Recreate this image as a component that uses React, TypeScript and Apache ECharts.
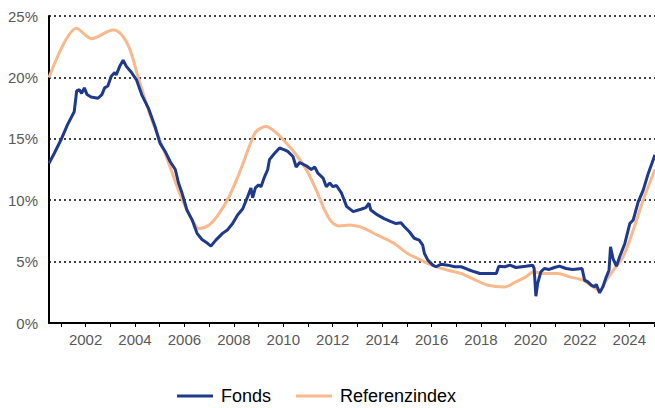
import React, { useEffect, useRef } from "react";
import * as echarts from "echarts";

const fondsYears = [
  2000.52, 2000.73, 2001.0, 2001.27, 2001.54, 2001.64, 2001.75, 2001.84, 2001.95, 2002.06,
  2002.22, 2002.5, 2002.66, 2002.77, 2002.9, 2003.04, 2003.18, 2003.24, 2003.38, 2003.52,
  2003.65, 2003.86, 2004.06, 2004.27, 2004.54, 2004.81, 2005.01, 2005.22, 2005.42, 2005.63,
  2005.76, 2005.9, 2006.1, 2006.31, 2006.51, 2006.71, 2006.86, 2007.07, 2007.27, 2007.54,
  2007.75, 2007.95, 2008.15, 2008.36, 2008.56, 2008.69, 2008.76, 2008.87, 2009.0, 2009.1,
  2009.24, 2009.37, 2009.44, 2009.64, 2009.85, 2010.05, 2010.18, 2010.39, 2010.52, 2010.66,
  2010.93, 2011.13, 2011.27, 2011.4, 2011.61, 2011.74, 2011.88, 2012.01, 2012.15, 2012.35,
  2012.56, 2012.83, 2013.14, 2013.34, 2013.47, 2013.54, 2013.81, 2014.08, 2014.36, 2014.56,
  2014.76, 2014.9, 2015.1, 2015.3, 2015.5, 2015.64, 2015.71, 2015.85, 2016.05, 2016.18,
  2016.39, 2016.66, 2016.93, 2017.2, 2017.47, 2017.74, 2017.95, 2018.28, 2018.62, 2018.72,
  2018.96, 2019.17, 2019.41, 2019.81, 2020.09, 2020.15, 2020.22, 2020.29, 2020.42, 2020.56,
  2020.76, 2020.97, 2021.17, 2021.44, 2021.71, 2022.09, 2022.19, 2022.32, 2022.46, 2022.6,
  2022.66, 2022.8, 2022.93, 2023.07, 2023.18, 2023.24, 2023.34, 2023.48, 2023.61, 2023.82,
  2024.02, 2024.16, 2024.36, 2024.56, 2024.77, 2025.04,
];
const fondsValues = [
  13.0, 13.8, 14.9, 16.15, 17.2, 18.9, 19.0, 18.7, 19.15, 18.6,
  18.4, 18.3, 18.6, 19.15, 19.3, 20.1, 20.4, 20.2, 20.9, 21.4,
  20.9, 20.4, 19.8, 18.6, 17.5, 16.0, 14.65, 13.97, 13.15, 12.5,
  11.4, 10.6, 9.2, 8.4, 7.3, 6.8, 6.6, 6.26, 6.75, 7.3,
  7.6, 8.1, 8.8, 9.3, 10.3, 11.0, 10.2, 11.0, 11.25, 11.1,
  11.9, 12.5, 13.3, 13.8, 14.25, 14.1, 13.97, 13.56, 12.7, 13.07,
  12.8, 12.5, 12.7, 12.2, 11.8, 11.1, 11.4, 11.1, 11.2, 10.6,
  9.5, 9.07, 9.26, 9.4, 9.75, 9.2, 8.8, 8.5, 8.25, 8.1,
  8.17, 7.84, 7.43, 6.9, 6.75, 6.35, 5.66, 5.12, 4.71, 4.58,
  4.79, 4.71, 4.58, 4.58, 4.36, 4.17, 4.03, 4.03, 4.03, 4.63,
  4.58, 4.71, 4.52, 4.63, 4.71, 4.44, 2.18, 3.2, 4.17, 4.44,
  4.36, 4.52, 4.63, 4.44, 4.36, 4.44, 3.49, 3.35, 3.08, 2.94,
  3.16, 2.45, 2.94, 3.76, 4.3, 6.2, 5.25, 4.63, 5.39, 6.48,
  8.1, 8.39, 9.86, 10.8, 12.2, 13.7,
];

const refYears = [
  2000.52, 2001.64, 2002.25, 2003.11, 2003.45, 2003.79, 2004.13, 2004.67, 2005.22, 2005.76,
  2006.03, 2006.31, 2006.58, 2007.0, 2007.4, 2007.81, 2008.22, 2008.63, 2008.9, 2009.3,
  2009.71, 2010.12, 2010.52, 2010.93, 2011.34, 2011.67, 2011.95, 2012.28, 2012.69, 2013.1,
  2013.27, 2013.81, 2014.49, 2015.03, 2015.57, 2016.12, 2016.66, 2017.2, 2017.74, 2018.28,
  2018.96, 2019.41, 2019.81, 2020.15, 2020.49, 2021.1, 2021.58, 2022.12, 2022.53, 2022.8,
  2023.07, 2023.41, 2023.75, 2024.16, 2024.56, 2025.04,
];
const refValues = [
  20.0, 24.0, 23.15, 23.86, 23.5, 22.3, 20.0, 16.6, 13.8, 10.8,
  9.5, 8.4, 7.7, 7.98, 8.9, 10.3, 12.2, 14.4, 15.6, 16.0,
  15.5, 14.65, 13.7, 12.5, 10.8, 9.2, 8.25, 7.9, 7.98, 7.84,
  7.7, 7.16, 6.48, 5.66, 5.12, 4.63, 4.3, 4.03, 3.54, 3.08,
  2.94, 3.35, 3.76, 4.17, 4.03, 4.03, 3.76, 3.49, 2.94, 2.67,
  3.49, 4.44, 5.39, 7.57, 10.0, 12.5,
];

const tickYears = [
  2001, 2002, 2003, 2004, 2005, 2006, 2007, 2008, 2009, 2010, 2011, 2012, 2013,
  2014, 2015, 2016, 2017, 2018, 2019, 2020, 2021, 2022, 2023, 2024, 2025,
];
const labelYears = [
  2002, 2004, 2006, 2008, 2010, 2012, 2014, 2016, 2018, 2020, 2022, 2024,
];
const seriesNames = ["Fonds", "Referenzindex"];

const FONT = "'Liberation Sans', Arial, sans-serif";

export default function App() {
  const ref = useRef<HTMLDivElement>(null);
  useEffect(() => {
    document.body.style.margin = "0";
    if (!ref.current) return;
    const chart = echarts.init(ref.current, undefined, { renderer: "svg" });
    const fonds = fondsYears.map((y, i) => [y, fondsValues[i]]);
    const refIdx = refYears.map((y, i) => [y, refValues[i]]);
    chart.setOption({
      animation: false,
      textStyle: { fontFamily: FONT },
      grid: { left: 49, right: 0, top: 16, bottom: 85, containLabel: false },
      legend: {
        data: seriesNames,
        left: 172,
        top: 382,
        icon: "rect",
        itemWidth: 36,
        itemHeight: 3,
        itemGap: 25,
        textStyle: { fontSize: 18, color: "#000", fontFamily: FONT, padding: [0, 0, 0, 3] },
      },
      xAxis: {
        type: "value",
        min: 2000.52,
        max: 2025.04,
        axisLine: { show: true, lineStyle: { color: "#000", width: 2 } },
        axisTick: {
          show: true,
          customValues: tickYears,
          length: 4,
          lineStyle: { color: "#000", width: 1 },
        },
        axisLabel: {
          customValues: labelYears,
          formatter: (v: number) => String(Math.round(v)),
          color: "#595959",
          fontSize: 15,
          margin: 9,
          fontFamily: FONT,
        },
        splitLine: { show: false },
      },
      yAxis: {
        type: "value",
        min: 0,
        max: 25,
        interval: 5,
        axisLine: { show: true, lineStyle: { color: "#000", width: 2 } },
        axisTick: { show: false },
        axisLabel: {
          formatter: "{value}%",
          color: "#595959",
          fontSize: 15,
          margin: 11,
          fontFamily: FONT,
        },
        splitLine: {
          show: true,
          lineStyle: { color: "#404040", width: 2, type: [2, 3] },
        },
      },
      series: [
        {
          name: "Fonds",
          type: "line",
          data: fonds,
          showSymbol: false,
          z: 3,
          lineStyle: { color: "#1F3A8C", width: 3 },
          itemStyle: { color: "#1F3A8C" },
        },
        {
          name: "Referenzindex",
          type: "line",
          data: refIdx,
          showSymbol: false,
          smooth: 0.3,
          z: 2,
          lineStyle: { color: "#F8B98C", width: 3 },
          itemStyle: { color: "#F8B98C" },
        },
      ],
    });
    return () => chart.dispose();
  }, []);
  return <div ref={ref} style={{ width: 655, height: 408 }} />;
}
